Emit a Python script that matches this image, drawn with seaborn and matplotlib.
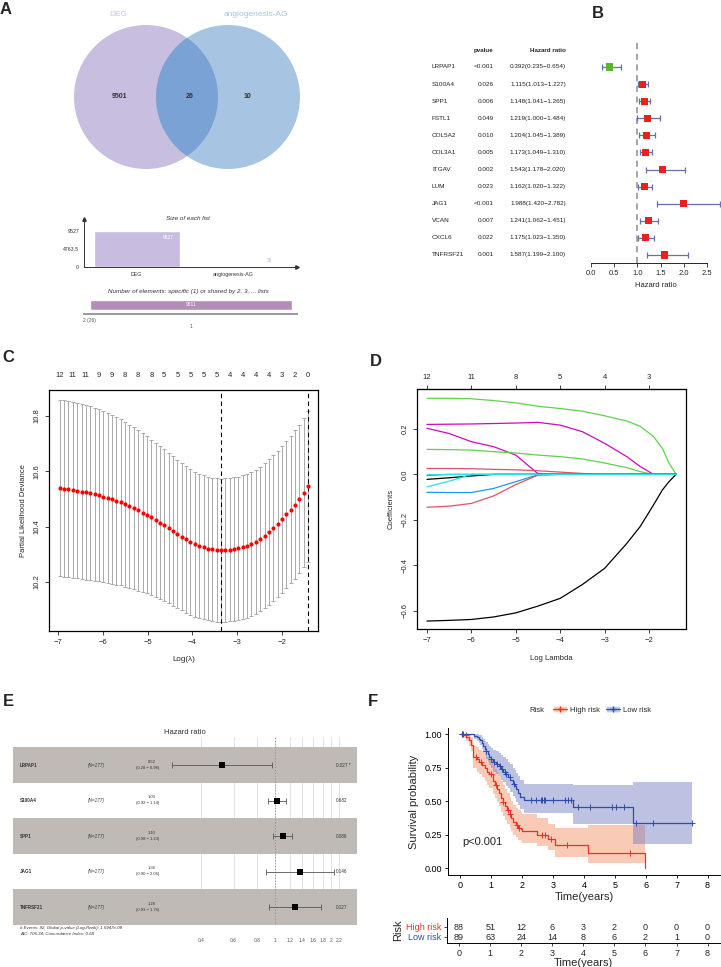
import numpy as np
import pandas as pd
import matplotlib
matplotlib.use("Agg")
from matplotlib import pyplot as plt
from matplotlib.patches import Circle, Patch
from matplotlib.lines import Line2D
from matplotlib.transforms import blended_transform_factory
from matplotlib.ticker import NullLocator
import seaborn as sns

# ---------------------------- datos ----------------------------

# A: Venn + tamaño de listas
set_names = ["DEG", "angiogenesis-AG"]
venn_counts = [9501, 26, 10]          # solo DEG, compartidos, solo AG
set_sizes = [9527, 36]
shared_labels = ["2 (26)", "1"]
shared_counts = [26, 9511]

# B: cox univariante
b_genes = ["LRPAP1", "S100A4", "SPP1", "FSTL1", "COL5A2", "COL3A1",
           "ITGAV", "LUM", "JAG1", "VCAN", "CXCL6", "TNFRSF21"]
b_pvals = ["<0.001", "0.026", "0.006", "0.049", "0.010", "0.005",
           "0.002", "0.023", "<0.001", "0.007", "0.022", "0.001"]
b_hr = [0.392, 1.115, 1.148, 1.219, 1.204, 1.173, 1.543, 1.162, 1.988, 1.241, 1.175, 1.587]
b_low = [0.235, 1.013, 1.041, 1.000, 1.045, 1.049, 1.178, 1.020, 1.420, 1.062, 1.023, 1.199]
b_high = [0.654, 1.227, 1.265, 1.484, 1.389, 1.310, 2.020, 1.322, 2.782, 1.451, 1.350, 2.100]

# C: validación cruzada lasso
cv_loglam = np.linspace(-6.96, -1.42, 58)
cv_mean = [10.540, 10.538, 10.536, 10.533, 10.530, 10.527, 10.524, 10.521, 10.517, 10.513,
           10.509, 10.504, 10.499, 10.494, 10.488, 10.481, 10.474, 10.467, 10.459, 10.451,
           10.443, 10.434, 10.425, 10.415, 10.405, 10.395, 10.385, 10.374, 10.364, 10.354,
           10.345, 10.337, 10.330, 10.325, 10.321, 10.318, 10.316, 10.315, 10.316, 10.317,
           10.319, 10.322, 10.326, 10.331, 10.337, 10.345, 10.355, 10.367, 10.380, 10.395,
           10.411, 10.427, 10.445, 10.462, 10.480, 10.500, 10.523, 10.546]
cv_sd = [0.319, 0.319, 0.318, 0.318, 0.317, 0.316, 0.315, 0.314, 0.313, 0.311,
         0.309, 0.307, 0.305, 0.303, 0.300, 0.298, 0.295, 0.292, 0.290, 0.287,
         0.284, 0.281, 0.279, 0.276, 0.274, 0.272, 0.270, 0.268, 0.266, 0.265,
         0.263, 0.262, 0.261, 0.260, 0.260, 0.259, 0.259, 0.259, 0.259, 0.259,
         0.259, 0.259, 0.260, 0.260, 0.260, 0.261, 0.261, 0.262, 0.263, 0.263,
         0.264, 0.265, 0.266, 0.267, 0.268, 0.269, 0.270, 0.272]
cv_nzero = [12, 11, 11, 9, 9, 8, 8, 8, 5, 5, 5, 5, 5, 4, 4, 4, 4, 3, 2, 0]
lambda_min = -3.364
lambda_1se = -1.42

# D: trayectorias de coeficientes
d_loglam = [-7, -6.5, -6, -5.5, -5, -4.5, -4, -3.5, -3, -2.5, -2.2, -1.9, -1.7, -1.55, -1.39]
d_paths = {
    "green_a":   [0.335, 0.335, 0.333, 0.325, 0.315, 0.300, 0.290, 0.278, 0.258, 0.235, 0.212, 0.167, 0.115, 0.050, 0.0],
    "magenta_a": [0.220, 0.221, 0.222, 0.224, 0.226, 0.229, 0.217, 0.188, 0.137, 0.078, 0.035, 0.0, 0.0, 0.0, 0.0],
    "magenta_b": [0.203, 0.180, 0.144, 0.122, 0.085, 0.003, 0.0, 0.0, 0.0, 0.0, 0.0, 0.0, 0.0, 0.0, 0.0],
    "green_b":   [0.110, 0.109, 0.107, 0.100, 0.094, 0.085, 0.078, 0.068, 0.050, 0.030, 0.012, 0.0, 0.0, 0.0, 0.0],
    "pink_a":    [0.026, 0.026, 0.025, 0.022, 0.020, 0.016, 0.010, 0.004, 0.0, 0.0, 0.0, 0.0, 0.0, 0.0, 0.0],
    "black_a":   [-0.022, -0.015, -0.007, 0.0, 0.0, 0.0, 0.0, 0.0, 0.0, 0.0, 0.0, 0.0, 0.0, 0.0, 0.0],
    "cyan_a":    [-0.055, -0.030, 0.0, 0.0, 0.0, 0.0, 0.0, 0.0, 0.0, 0.0, 0.0, 0.0, 0.0, 0.0, 0.0],
    "blue_a":    [-0.079, -0.080, -0.080, -0.062, -0.032, -0.002, 0.0, 0.0, 0.0, 0.0, 0.0, 0.0, 0.0, 0.0, 0.0],
    "blue_b":    [-0.005, 0.0, 0.0, 0.0, 0.0, 0.0, 0.0, 0.0, 0.0, 0.0, 0.0, 0.0, 0.0, 0.0, 0.0],
    "pink_b":    [-0.145, -0.140, -0.128, -0.095, -0.045, -0.003, 0.0, 0.0, 0.0, 0.0, 0.0, 0.0, 0.0, 0.0, 0.0],
    "black_b":   [-0.646, -0.643, -0.639, -0.628, -0.610, -0.580, -0.546, -0.485, -0.414, -0.304, -0.230, -0.135, -0.069, -0.032, 0.0],
    "cyan_b":    [0.0, 0.0, 0.0, 0.0, 0.0, 0.0, 0.0, 0.0, 0.0, 0.0, 0.0, 0.0, 0.0, 0.0, 0.0],
}
d_top_ticks = [-7, -6, -5, -4, -3, -2]
d_top_labels = [12, 11, 8, 5, 4, 3]

# E: cox multivariante
e_genes = ["LRPAP1", "S100A4", "SPP1", "JAG1", "TNFRSF21"]
e_hr = [0.52, 1.03, 1.10, 1.36, 1.28]
e_low = [0.28, 0.92, 0.98, 0.90, 0.93]
e_high = [0.96, 1.14, 1.23, 2.06, 1.76]
e_p = ["0.027 *", "0.682", "0.086", "0.146", "0.127"]

# F: Kaplan-Meier
hi_t = [0, 0.12, 0.2, 0.3, 0.35, 0.42, 0.55, 0.62, 0.72, 0.8, 0.88, 0.95, 1.05, 1.12, 1.2, 1.26,
        1.32, 1.38, 1.45, 1.52, 1.6, 1.66, 1.72, 1.8, 1.88, 1.96, 2.0, 2.5, 2.85, 3.08, 4.12, 5.98]
hi_s = [1.0, 0.99, 0.977, 0.955, 0.92, 0.83, 0.81, 0.79, 0.77, 0.75, 0.72, 0.70, 0.65, 0.62, 0.59, 0.56,
        0.52, 0.49, 0.46, 0.43, 0.40, 0.37, 0.34, 0.32, 0.30, 0.29, 0.275, 0.25, 0.215, 0.17, 0.11, 0.0]
hi_up = [1.0, 1.0, 1.0, 0.995, 0.98, 0.91, 0.90, 0.88, 0.87, 0.85, 0.83, 0.81, 0.77, 0.74, 0.72, 0.69,
         0.65, 0.62, 0.59, 0.56, 0.53, 0.50, 0.47, 0.45, 0.43, 0.42, 0.40, 0.37, 0.33, 0.30, 0.32, 0.0]
hi_lo = [1.0, 0.97, 0.95, 0.91, 0.87, 0.75, 0.72, 0.70, 0.68, 0.65, 0.62, 0.60, 0.55, 0.52, 0.49, 0.46,
         0.42, 0.39, 0.36, 0.33, 0.30, 0.28, 0.25, 0.23, 0.21, 0.20, 0.19, 0.165, 0.135, 0.085, 0.04, 0.0]
hi_cens = [0.05, 0.18, 0.5, 0.68, 1.0, 1.15, 1.4, 1.55, 1.62, 1.85, 1.92, 2.65, 2.75, 2.95, 3.45, 5.5]

lo_t = [0, 0.45, 0.55, 0.6, 0.65, 0.7, 0.75, 0.8, 0.85, 0.9, 0.95, 1.0, 1.05, 1.15, 1.25, 1.32,
        1.4, 1.48, 1.55, 1.62, 1.7, 1.76, 1.82, 1.88, 1.95, 2.05, 3.65, 5.6, 7.5]
lo_s = [1.0, 0.988, 0.977, 0.965, 0.953, 0.93, 0.91, 0.89, 0.87, 0.85, 0.83, 0.81, 0.79, 0.78, 0.76, 0.74,
        0.72, 0.70, 0.68, 0.66, 0.63, 0.61, 0.59, 0.56, 0.53, 0.505, 0.455, 0.337, 0.337]
lo_up = [1.0, 1.0, 1.0, 0.995, 0.99, 0.975, 0.96, 0.95, 0.94, 0.925, 0.91, 0.895, 0.88, 0.87, 0.855, 0.84,
         0.825, 0.81, 0.79, 0.775, 0.75, 0.73, 0.71, 0.69, 0.66, 0.625, 0.62, 0.645, 0.645]
lo_lo = [1.0, 0.965, 0.945, 0.93, 0.915, 0.89, 0.865, 0.84, 0.815, 0.79, 0.77, 0.745, 0.72, 0.705, 0.685, 0.66,
         0.64, 0.615, 0.595, 0.57, 0.54, 0.52, 0.495, 0.47, 0.44, 0.41, 0.326, 0.176, 0.176]
lo_cens = [0.05, 0.1, 0.85, 1.0, 1.1, 1.2, 1.3, 1.35, 1.45, 1.5, 1.6, 1.75, 2.3, 2.45, 2.6, 2.65, 2.7,
           2.75, 3.0, 3.4, 3.5, 3.6, 3.8, 4.2, 4.9, 5.05, 5.3, 5.7, 6.25, 7.5]

risk_years = [0, 1, 2, 3, 4, 5, 6, 7, 8]
risk_high = [88, 51, 12, 6, 3, 2, 0, 0, 0]
risk_low = [89, 63, 24, 14, 8, 6, 2, 1, 0]

# ---------------------------- figura ----------------------------

sns.set_style("white")
plt.rcParams['font.family'] = ['Liberation Sans', 'DejaVu Sans']

W, H = 721, 967
fig = plt.figure(figsize=(W / 100, H / 100), dpi=100)


def box(x0, y0, x1, y1):
    # ejes en píxeles (origen arriba a la izquierda)
    return fig.add_axes([x0 / W, 1 - y1 / H, (x1 - x0) / W, (y1 - y0) / H])


def ftext(x, y, s, **kw):
    fig.text(x / W, 1 - y / H, s, **kw)


for lab, x, y in [("A", 6, 10), ("B", 598, 13), ("C", 8, 357), ("D", 376, 362), ("E", 8, 701), ("F", 373, 701)]:
    ftext(x, y, lab, fontsize=12, fontweight="bold", va="center", ha="center")

# ---- A: Venn ----
ax = box(0, 0, 360, 180)
ax.set_xlim(0, 360)
ax.set_ylim(180, 0)
ax.axis("off")
left = Circle((146, 97), 72, facecolor="#c8bfe0", edgecolor="none")
right = Circle((228, 97), 72, facecolor="#a7c5e3", edgecolor="none")
ax.add_patch(left)
ax.add_patch(right)
lens = Circle((228, 97), 72, facecolor="#7ba2d5", edgecolor="none")
ax.add_patch(lens)
lens.set_clip_path(left)
ax.text(118, 15, set_names[0], color="#cbc3e3", fontsize=6, ha="center", va="center")
ax.text(256, 15, set_names[1], color="#a6c3e6", fontsize=6, ha="center", va="center")
for n, x in zip(venn_counts, [120, 190, 247]):
    ax.text(x, 97, str(n), fontsize=5, fontweight="bold", color="#333333", ha="center", va="center")

# tamaño de cada lista
ax = box(84, 219, 297, 267)
df_sizes = pd.DataFrame({"set": set_names, "n": set_sizes})
sns.barplot(data=df_sizes, x="set", y="n", hue="set", palette=["#c8bde0", "#a7c5e3"],
            width=0.9, legend=False, saturation=1, ax=ax)
ax.set_xlim(-0.55, 1.67)
ax.set_ylim(0, 12700)
ax.set_yticks([0, 4763.5, 9527])
ax.set_yticklabels(["0", "4763.5", "9527"])
ax.set_xlabel("")
ax.set_ylabel("")
ax.tick_params(labelsize=3.8, length=2, width=0.5, pad=1.5, colors="#333333")
for s in ["top", "right"]:
    ax.spines[s].set_visible(False)
for s in ["left", "bottom"]:
    ax.spines[s].set_linewidth(0.7)
    ax.spines[s].set_color("#333333")
ax.plot(1, 0, ">", color="#333333", ms=2.5, transform=ax.transAxes, clip_on=False)
ax.plot(0, 1, "^", color="#333333", ms=2.5, transform=ax.transAxes, clip_on=False)
ax.text(0.33, 7900, str(set_sizes[0]), color="white", fontsize=3.5, ha="center", va="center")
ax.text(1.385, 1850, str(set_sizes[1]), color="#a6c3e6", fontsize=3.5, ha="center", va="center")
ftext(188, 218, "Size of each list", fontsize=4.5, style="italic", ha="center", va="center", color="#333333")

# elementos compartidos
ax = box(84, 296, 297, 314)
ax.barh(0, shared_counts[0], left=0, height=1, color="#8e6a93")
ax.barh(0, shared_counts[1], left=shared_counts[0], height=1, color="#b48cb8")
ax.set_xlim(-235, 9772)
ax.set_ylim(-0.9, 0.9)
ax.set_yticks([])
ax.set_xticks([shared_counts[0] / 2, shared_counts[0] + shared_counts[1] / 2])
ax.set_xticklabels([shared_labels[0], "\n" + shared_labels[1]])
ax.tick_params(labelsize=3.5, length=1.5, width=0.5, pad=1.5, colors="#555555")
for s in ["top", "right", "left"]:
    ax.spines[s].set_visible(False)
ax.spines["bottom"].set_linewidth(1.4)
ax.spines["bottom"].set_color("#9a9a9a")
ax.text(shared_counts[0] + shared_counts[1] / 2, 0, str(shared_counts[1]), color="white",
        fontsize=3.5, ha="center", va="center")
ftext(188, 292, "Number of elements: specific (1) or shared by 2, 3, ... lists", fontsize=4.5,
      style="italic", ha="center", va="center", color="#333333")

# ---- B: forest univariante ----
ax = box(591, 40, 720, 263)
rows = np.arange(len(b_genes))
ax.set_xlim(0, 2.78)
ax.set_ylim(11.47, -1.58)
ax.axvline(1, color="#8c8c8c", ls=(0, (4, 3)), lw=1.1, zorder=1)
b_hr_a = np.array(b_hr)
ax.errorbar(b_hr_a, rows, xerr=[b_hr_a - np.array(b_low), np.array(b_high) - b_hr_a], fmt="none",
            ecolor="#6a6fa6", elinewidth=0.9, capsize=2, capthick=0.9, zorder=2)
b_col = ["#5cb531" if h < 1 else "#e8211d" for h in b_hr]
sns.scatterplot(x=b_hr, y=rows, marker="s", c=b_col, s=26, linewidth=0, zorder=3, ax=ax)
for s in ["top", "right", "left"]:
    ax.spines[s].set_visible(False)
ax.spines["bottom"].set_bounds(0, 2.5)
ax.spines["bottom"].set_linewidth(0.7)
ax.set_xticks([0, 0.5, 1.0, 1.5, 2.0, 2.5])
ax.set_xticklabels(["0.0", "0.5", "1.0", "1.5", "2.0", "2.5"])
ax.set_yticks([])
ax.tick_params(axis="x", labelsize=5.5, length=3, width=0.6, pad=2, bottom=True)
ax.set_xlabel("Hazard ratio", fontsize=5.5, labelpad=4)
tr = blended_transform_factory(fig.transFigure, ax.transData)
ax.text(484 / W, -0.99, "pvalue", transform=tr, fontsize=4.5, fontweight="bold", ha="center", va="center")
ax.text(566 / W, -0.99, "Hazard ratio", transform=tr, fontsize=4.5, fontweight="bold", ha="right", va="center")
for i in rows:
    ax.text(432 / W, i, b_genes[i], transform=tr, fontsize=4.6, ha="left", va="center", color="#222222")
    ax.text(494 / W, i, b_pvals[i], transform=tr, fontsize=4.6, ha="right", va="center", color="#222222")
    ax.text(566 / W, i, f"{b_hr[i]:.3f}({b_low[i]:.3f}\u2212{b_high[i]:.3f})", transform=tr,
            fontsize=4.6, ha="right", va="center", color="#222222")

# ---- C: cv lasso ----
ax = box(49, 390, 318, 631)
ax.errorbar(cv_loglam, cv_mean, yerr=cv_sd, fmt="none", ecolor="#aaaaaa", elinewidth=0.7,
            capsize=1.6, capthick=0.7, zorder=1)
sns.scatterplot(x=cv_loglam, y=cv_mean, color="#ff0000", s=9, linewidth=0, zorder=3, ax=ax)
ax.axvline(lambda_min, color="black", ls=(0, (4, 3)), lw=0.8, zorder=2)
ax.axvline(lambda_1se, color="black", ls=(0, (4, 3)), lw=0.8, zorder=2)
ax.set_xlim(-7.2, -1.2)
ax.set_ylim(10.023, 10.894)
ax.set_xticks([-7, -6, -5, -4, -3, -2])
ax.set_yticks([10.2, 10.4, 10.6, 10.8])
ax.set_yticklabels(["10.2", "10.4", "10.6", "10.8"], rotation=90, va="center")
ax.tick_params(labelsize=5.5, length=3, width=0.6, pad=3, bottom=True, left=True)
for s in ax.spines.values():
    s.set_linewidth(0.9)
    s.set_color("black")
ax.set_xlabel("Log(\u03bb)", fontsize=5.8, labelpad=7)
ax.set_ylabel("Partial Likelihood Deviance", fontsize=5.5, labelpad=5)
top = ax.secondary_xaxis("top")
top.set_xticks(cv_loglam[::3])
top.set_xticklabels([str(n) for n in cv_nzero])
top.tick_params(length=0, labelsize=5.5, pad=8)
top.spines["top"].set_visible(False)

# ---- D: coeficientes ----
ax = box(417, 389, 686, 629)
d_colors = {"green": "#61D04F", "magenta": "#CD0BBC", "pink": "#DF536B", "black": "#000000",
            "cyan": "#28E2E5", "blue": "#2297E6"}
for name, vals in d_paths.items():
    sns.lineplot(x=d_loglam, y=vals, color=d_colors[name.split("_")[0]], lw=0.9, ax=ax)
ax.set_xlim(-7.225, -1.167)
ax.set_ylim(-0.681, 0.376)
ax.set_xticks([-7, -6, -5, -4, -3, -2])
ax.set_yticks([-0.6, -0.4, -0.2, 0.0, 0.2])
ax.set_yticklabels(["\u22120.6", "\u22120.4", "\u22120.2", "0.0", "0.2"], rotation=90, va="center")
ax.tick_params(labelsize=5.5, length=3, width=0.6, pad=3, bottom=True, left=True)
for s in ax.spines.values():
    s.set_linewidth(0.9)
    s.set_color("black")
ax.set_xlabel("Log Lambda", fontsize=5.5, labelpad=8)
ax.set_ylabel("Coefficients", fontsize=5.5, labelpad=5)
top = ax.secondary_xaxis("top")
top.set_xticks(d_top_ticks)
top.set_xticklabels([str(n) for n in d_top_labels])
top.tick_params(length=3, width=0.6, labelsize=5.5, pad=3, top=True)

# ---- E: forest multivariante ----
ax = box(13, 737, 357, 925)
ax.set_xscale("log")
ax.set_xlim(0.0394, 2.752)
ax.set_ylim(4.5, -0.79)
e_ticks = [0.4, 0.6, 0.8, 1, 1.2, 1.4, 1.6, 1.8, 2, 2.2]
for t in e_ticks:
    ax.axvline(t, color="#dddddd", lw=0.6, zorder=0)
for i in range(len(e_genes)):
    if i % 2 == 0:
        ax.axhspan(i - 0.5, i + 0.5, color="#bfbab5", lw=0, zorder=1)
ax.axvline(1, color="#888888", ls=(0, (1, 2)), lw=0.7, zorder=2)
e_rows = np.arange(len(e_genes))
e_hr_a = np.array(e_hr)
ax.errorbar(e_hr_a, e_rows, xerr=[e_hr_a - np.array(e_low), np.array(e_high) - e_hr_a], fmt="none",
            ecolor="#555555", elinewidth=0.6, capsize=2.2, capthick=0.6, zorder=3)
sns.scatterplot(x=e_hr, y=e_rows, marker="s", color="black", s=18, linewidth=0, zorder=4, ax=ax)
ax.xaxis.set_minor_locator(NullLocator())
ax.set_xticks(e_ticks)
ax.set_xticklabels(["0.4", "0.6", "0.8", "1", "1.2", "1.4", "1.6", "1.8", "2", "2.2"])
ax.set_yticks([])
ax.tick_params(axis="x", length=0, pad=9, labelsize=3.5, labelcolor="#555555")
for s in ax.spines.values():
    s.set_visible(False)
tr = blended_transform_factory(ax.transAxes, ax.transData)
for i in e_rows:
    ax.text(0.020, i, e_genes[i], transform=tr, fontsize=3.3, fontweight="bold", ha="left", va="center", color="#333333")
    ax.text(0.218, i, "(N=177)", transform=tr, fontsize=3.3, style="italic", ha="left", va="center", color="#333333")
    ax.text(0.404, i - 0.1, f"{e_hr[i]:.2f}", transform=tr, fontsize=3.0, ha="center", va="center", color="#333333")
    ax.text(0.39, i + 0.07, f"({e_low[i]:.2f} \u2212 {e_high[i]:.2f})", transform=tr, fontsize=3.0,
            ha="center", va="center", color="#333333")
    ax.text(0.939, i, e_p[i], transform=tr, fontsize=3.3, ha="left", va="center", color="#333333")
ftext(185, 732, "Hazard ratio", fontsize=5.5, ha="center", va="center", color="#333333")
ftext(20, 928, "# Events: 92; Global p-value (Log-Rank): 1.5947e-08", fontsize=3.2, style="italic",
      ha="left", va="center", color="#333333")
ftext(20, 934, "AIC: 706.34; Concordance Index: 0.68", fontsize=3.2, style="italic",
      ha="left", va="center", color="#333333")

# ---- F: Kaplan-Meier ----
c_hi, c_lo = "#e8312a", "#2b4fa8"
f_hi, f_lo = "#f28a5e", "#7078c0"
ax = box(448, 728, 720, 875)
ax.fill_between(hi_t, hi_lo, hi_up, step="post", color=f_hi, alpha=0.45, lw=0)
ax.fill_between(lo_t, lo_lo, lo_up, step="post", color=f_lo, alpha=0.45, lw=0)
sns.lineplot(x=hi_t, y=hi_s, drawstyle="steps-post", estimator=None, color=c_hi, lw=0.9, ax=ax)
sns.lineplot(x=lo_t, y=lo_s, drawstyle="steps-post", estimator=None, color=c_lo, lw=0.9, ax=ax)
hi_cy = [hi_s[np.searchsorted(hi_t, t, side="right") - 1] for t in hi_cens]
lo_cy = [lo_s[np.searchsorted(lo_t, t, side="right") - 1] for t in lo_cens]
sns.scatterplot(x=hi_cens, y=hi_cy, marker="+", color=c_hi, s=22, linewidth=0.7, ax=ax)
sns.scatterplot(x=lo_cens, y=lo_cy, marker="+", color=c_lo, s=22, linewidth=0.7, ax=ax)
ax.set_xlim(-0.39, 8.4)
ax.set_ylim(-0.052, 1.045)
ax.set_xticks(risk_years)
ax.set_yticks([0, 0.25, 0.5, 0.75, 1.0])
ax.set_yticklabels(["0.00", "0.25", "0.50", "0.75", "1.00"])
ax.tick_params(labelsize=6.5, length=2.5, width=0.6, pad=2, bottom=True, left=True, colors="black")
for s in ["top", "right"]:
    ax.spines[s].set_visible(False)
for s in ["left", "bottom"]:
    ax.spines[s].set_linewidth(0.7)
    ax.spines[s].set_color("black")
ax.set_xlabel("Time(years)", fontsize=8, labelpad=1)
ax.set_ylabel("Survival probability", fontsize=8, labelpad=4)
ax.text(0.72, 0.194, "p<0.001", fontsize=8, ha="center", va="center")

ftext(537, 710, "Risk", fontsize=5.5, ha="center", va="center")
handles = [(Patch(facecolor=f_hi, alpha=0.45), Line2D([], [], color=c_hi, marker="+", ms=4, lw=0.9)),
           (Patch(facecolor=f_lo, alpha=0.45), Line2D([], [], color=c_lo, marker="+", ms=4, lw=0.9))]
fig.legend(handles, ["High risk", "Low risk"], loc="center left", bbox_to_anchor=(546 / W, 1 - 710 / H),
           ncol=2, frameon=False, fontsize=5.5, handlelength=1.8, handletextpad=0.4, columnspacing=0.8)

# tabla de riesgo
ax = box(447, 918, 720, 943)
ax.set_xlim(-0.39, 8.4)
ax.set_ylim(-0.6, 1.9)
for t, a, b in zip(risk_years, risk_high, risk_low):
    ax.text(t, 1, str(a), fontsize=6.5, ha="center", va="center")
    ax.text(t, 0, str(b), fontsize=6.5, ha="center", va="center")
ax.set_yticks([1, 0])
ax.set_yticklabels(["High risk", "Low risk"])
for lbl, c in zip(ax.get_yticklabels(), [c_hi, c_lo]):
    lbl.set_color(c)
ax.set_xticks(risk_years)
ax.tick_params(labelsize=6.5, length=2.5, width=0.6, pad=1.5, bottom=True, left=True)
for s in ["top", "right"]:
    ax.spines[s].set_visible(False)
for s in ["left", "bottom"]:
    ax.spines[s].set_linewidth(0.7)
    ax.spines[s].set_color("black")
ax.set_xlabel("Time(years)", fontsize=8, labelpad=0)
ax.set_ylabel("Risk", fontsize=8, labelpad=2)

fig.savefig("out.png", dpi=100)
